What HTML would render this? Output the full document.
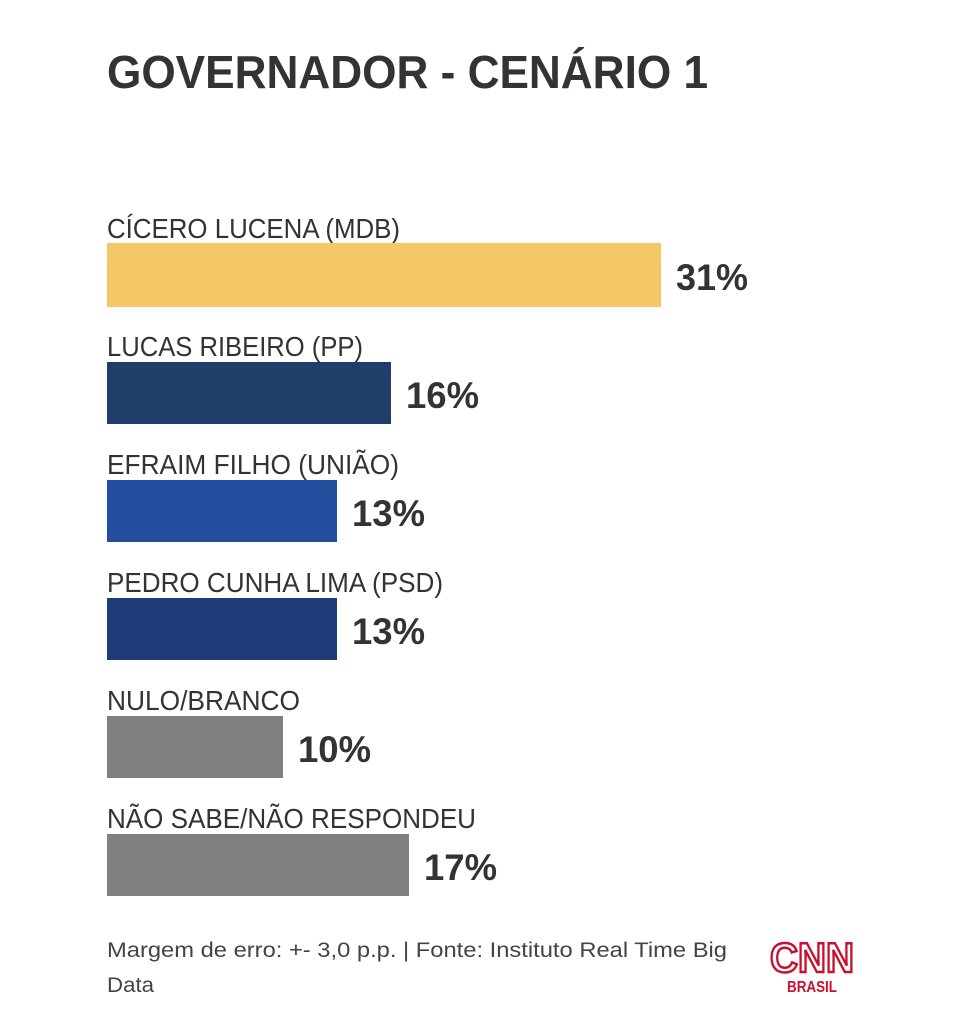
<!DOCTYPE html>
<html><head><meta charset="utf-8"><style>
html,body{margin:0;padding:0;background:#fff;}
svg{display:block;}
text{font-family:"Liberation Sans",sans-serif;}
</style></head><body>
<svg width="953" height="1024" viewBox="0 0 953 1024" xmlns="http://www.w3.org/2000/svg">
<rect width="953" height="1024" fill="#fff"/>
<text x="107" y="88" font-size="46" font-weight="bold" fill="#333" textLength="601" lengthAdjust="spacingAndGlyphs">GOVERNADOR - CENÁRIO 1</text>

<g fill="#333" font-size="28">
<text x="107" y="238" textLength="293" lengthAdjust="spacingAndGlyphs">CÍCERO LUCENA (MDB)</text>
<text x="107" y="356" textLength="256" lengthAdjust="spacingAndGlyphs">LUCAS RIBEIRO (PP)</text>
<text x="107" y="474" textLength="292" lengthAdjust="spacingAndGlyphs">EFRAIM FILHO (UNIÃO)</text>
<text x="107" y="592" textLength="336" lengthAdjust="spacingAndGlyphs">PEDRO CUNHA LIMA (PSD)</text>
<text x="107" y="710" textLength="193" lengthAdjust="spacingAndGlyphs">NULO/BRANCO</text>
<text x="107" y="828" textLength="369" lengthAdjust="spacingAndGlyphs">NÃO SABE/NÃO RESPONDEU</text>
</g>

<rect x="107" y="243" width="554" height="64" fill="#f4c867"/>
<rect x="107" y="362" width="284" height="62" fill="#1f3e6a"/>
<rect x="107" y="480" width="230" height="62" fill="#244f9e"/>
<rect x="107" y="598" width="230" height="62" fill="#1f3c78"/>
<rect x="107" y="716" width="176" height="62" fill="#808080"/>
<rect x="107" y="834" width="302" height="62" fill="#808080"/>

<g fill="#333" font-size="37" font-weight="bold">
<text x="676" y="290" textLength="72" lengthAdjust="spacingAndGlyphs">31%</text>
<text x="406" y="408" textLength="73" lengthAdjust="spacingAndGlyphs">16%</text>
<text x="352" y="526" textLength="73" lengthAdjust="spacingAndGlyphs">13%</text>
<text x="352" y="644" textLength="73" lengthAdjust="spacingAndGlyphs">13%</text>
<text x="298" y="762" textLength="73" lengthAdjust="spacingAndGlyphs">10%</text>
<text x="424" y="880" textLength="73" lengthAdjust="spacingAndGlyphs">17%</text>
</g>

<g fill="#444" font-size="21">
<text x="107" y="957" textLength="620" lengthAdjust="spacingAndGlyphs">Margem de erro: +- 3,0 p.p. | Fonte: Instituto Real Time Big</text>
<text x="107" y="992" textLength="47" lengthAdjust="spacingAndGlyphs">Data</text>
</g>

<text x="812" y="972" font-size="42" font-weight="bold" fill="none" stroke="#c8102e" stroke-width="2.5" text-anchor="middle" textLength="84" lengthAdjust="spacingAndGlyphs">CNN</text>
<text x="812" y="992" font-size="16" font-weight="bold" fill="#c8102e" text-anchor="middle" textLength="50" lengthAdjust="spacingAndGlyphs">BRASIL</text>
</svg>
</body></html>
